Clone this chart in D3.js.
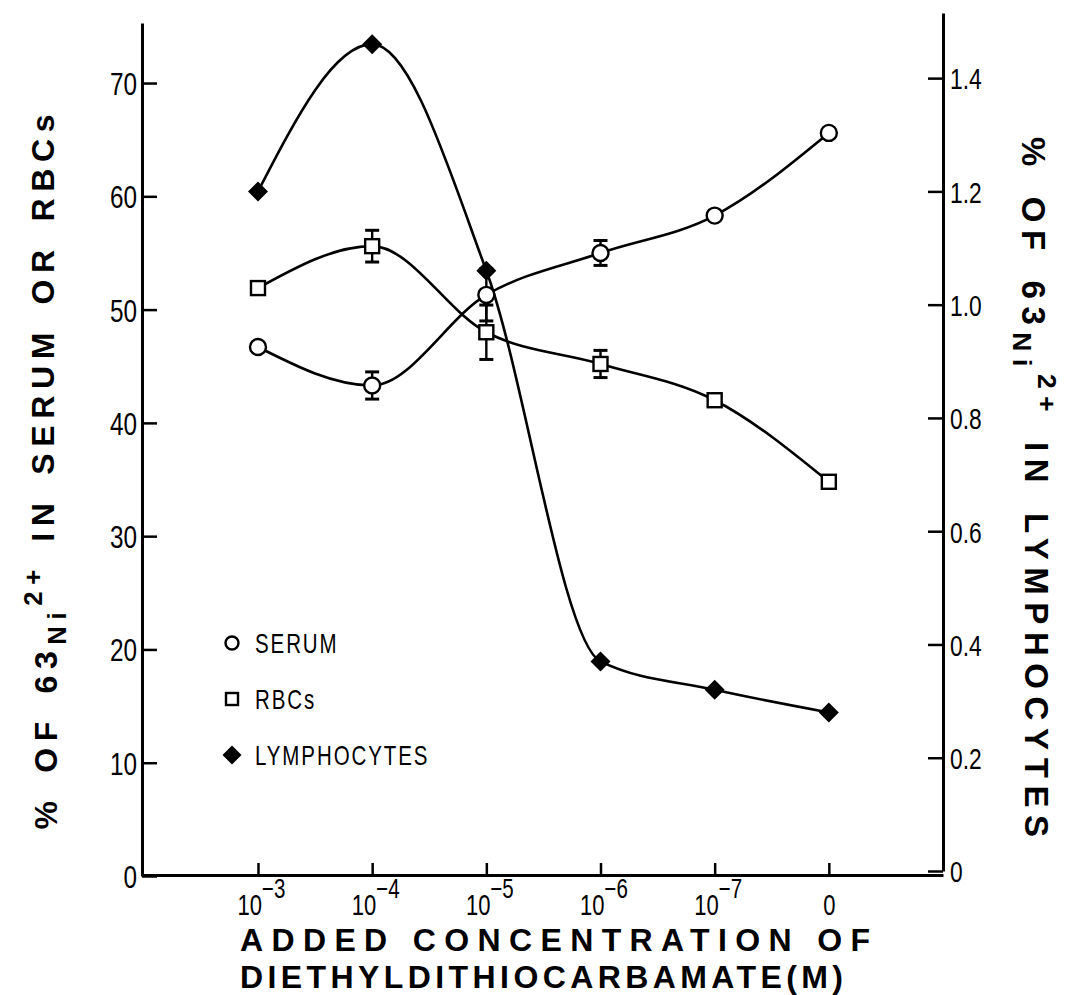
<!DOCTYPE html>
<html lang="en">
<head>
<meta charset="UTF-8">
<title>Ni uptake vs diethyldithiocarbamate</title>
<script src="https://cdn.jsdelivr.net/npm/d3@7"></script>
<style>
    body { margin: 0; background: #fff; }
    .tick text, .lbl { font-family: "Liberation Sans", Arial, sans-serif; fill: #000; }
    .title { font-family: "Liberation Sans", Arial, sans-serif; font-weight: bold; fill: #000; }
    .domain { stroke: #000; stroke-width: 3; }
    .tick line { stroke: #000; stroke-width: 2.5; }
</style>
</head>
<body>
<div id="main"></div>
<script>
// categories on the x axis (equal spacing)
const categories = ["1e-3", "1e-4", "1e-5", "1e-6", "1e-7", "0"];
const tickBase = ["10", "10", "10", "10", "10", "0"];
const tickExp = ["\u22123", "\u22124", "\u22125", "\u22126", "\u22127", ""];

// left axis: % in serum / RBCs
const serum = [46.7, 43.3, 51.3, 55.0, 58.3, 65.6];
const serumErr = [0, 1.2, 2.3, 1.1, 0, 0];
const rbc = [51.9, 55.6, 48.0, 45.2, 42.0, 34.8];
const rbcErr = [0, 1.4, 2.4, 1.2, 0, 0];

// right axis: % in lymphocytes
const lymph = [1.20, 1.46, 1.06, 0.37, 0.32, 0.28];

const leftTicks = [0, 10, 20, 30, 40, 50, 60, 70];
const rightTicks = [0, 0.2, 0.4, 0.6, 0.8, 1.0, 1.2, 1.4];
const rightTickLabels = ["0", "0.2", "0.4", "0.6", "0.8", "1.0", "1.2", "1.4"];

const legendNames = ["SERUM", "RBCs", "LYMPHOCYTES"];

const W = 1071, H = 995;
const NARROW = 0.76;   // squeeze factor to mimic the condensed typeface

const svg = d3.select('#main').append('svg')
    .attr('width', W).attr('height', H)
    .style('background', '#fff');

// scales
const x = d3.scaleLinear().domain([-1.016, 6]).range([142, 943]);
const yL = d3.scaleLinear().domain([0, 75.3]).range([876, 23]);
const yR = d3.scaleLinear().domain([0, 1.515]).range([871, 13]);
const xAxisY = 875;

// squeeze text horizontally, keep the anchor point
function narrow(sel) {
    sel.each(function () {
        const t = d3.select(this);
        const x0 = +t.attr('x') || 0;
        t.attr('x', x0 / NARROW).attr('transform', `scale(${NARROW},1)`);
    });
}

// left axis (ticks point inward)
svg.append('g')
    .attr('transform', `translate(${x.range()[0]},0)`)
    .call(d3.axisLeft(yL).tickValues(leftTicks).tickSizeInner(-15).tickSizeOuter(0).tickPadding(5))
    .call(g => g.selectAll('.tick text').attr('font-size', 32).attr('dy', '0.36em').call(narrow));

// right axis
svg.append('g')
    .attr('transform', `translate(${x.range()[1]},0)`)
    .call(d3.axisRight(yR).tickValues(rightTicks).tickSizeInner(-15).tickSizeOuter(0).tickPadding(7)
        .tickFormat((d, i) => rightTickLabels[i]))
    .call(g => g.selectAll('.tick text').attr('font-size', 30).attr('dy', '0.36em').call(narrow));

// bottom axis
const xAxis = svg.append('g')
    .attr('transform', `translate(0,${xAxisY})`)
    .call(d3.axisBottom(x).tickValues(d3.range(categories.length)).tickSizeInner(-12).tickSizeOuter(0)
        .tickFormat(''));
xAxis.selectAll('.tick line').attr('stroke-width', 2);

const xl = xAxis.selectAll('.tick').append('text').attr('class', 'lbl')
    .attr('x', (d, i) => tickExp[i] ? 3 : 0)
    .attr('y', 40)
    .attr('text-anchor', 'middle')
    .attr('font-size', 29);
xl.append('tspan').text((d, i) => tickBase[i]);
xl.append('tspan').attr('font-size', 27).attr('dy', '-0.62em').text((d, i) => tickExp[i]);
xl.call(narrow);

// curves
const lineL = d3.line().x((d, i) => x(i)).y(d => yL(d)).curve(d3.curveMonotoneX);
const lineR = d3.line().x((d, i) => x(i)).y(d => yR(d)).curve(d3.curveMonotoneX);

svg.append('path').datum(lymph).attr('d', lineR)
    .attr('fill', 'none').attr('stroke', '#000').attr('stroke-width', 2.6);
svg.append('path').datum(serum).attr('d', lineL)
    .attr('fill', 'none').attr('stroke', '#000').attr('stroke-width', 2.6);
svg.append('path').datum(rbc).attr('d', lineL)
    .attr('fill', 'none').attr('stroke', '#000').attr('stroke-width', 2.6);

// error bars
function errorBars(vals, errs) {
    const g = svg.append('g').attr('stroke', '#000').attr('stroke-width', 2.4);
    vals.forEach((v, i) => {
        if (!errs[i]) return;
        const cx = x(i), y1 = yL(v - errs[i]), y2 = yL(v + errs[i]);
        g.append('line').attr('x1', cx).attr('x2', cx).attr('y1', y1).attr('y2', y2);
        g.append('line').attr('x1', cx - 7).attr('x2', cx + 7).attr('y1', y1).attr('y2', y1).attr('stroke-width', 3);
        g.append('line').attr('x1', cx - 7).attr('x2', cx + 7).attr('y1', y2).attr('y2', y2).attr('stroke-width', 3);
    });
}
errorBars(serum, serumErr);
errorBars(rbc, rbcErr);

// markers
const diamond = d3.symbol().type(d3.symbolSquare).size(200);
svg.append('g').selectAll('path').data(lymph).join('path')
    .attr('d', diamond)
    .attr('transform', (d, i) => `translate(${x(i)},${yR(d)}) rotate(45)`)
    .attr('fill', '#000');

svg.append('g').selectAll('circle').data(serum).join('circle')
    .attr('cx', (d, i) => x(i)).attr('cy', d => yL(d)).attr('r', 8)
    .attr('fill', '#fff').attr('stroke', '#000').attr('stroke-width', 2.4);

svg.append('g').selectAll('rect').data(rbc).join('rect')
    .attr('x', (d, i) => x(i) - 7).attr('y', d => yL(d) - 7)
    .attr('width', 14).attr('height', 14)
    .attr('fill', '#fff').attr('stroke', '#000').attr('stroke-width', 2.4);

// legend
const legend = svg.append('g').attr('transform', 'translate(232,643)');
const lg = legend.selectAll('g').data(legendNames).join('g')
    .attr('transform', (d, i) => `translate(0,${i * 56})`);
lg.each(function (d, i) {
    const g = d3.select(this);
    if (i === 0) g.append('circle').attr('r', 6.5).attr('fill', '#fff').attr('stroke', '#000').attr('stroke-width', 2.4);
    if (i === 1) g.append('rect').attr('x', -6).attr('y', -6).attr('width', 12).attr('height', 12)
        .attr('fill', '#fff').attr('stroke', '#000').attr('stroke-width', 2.4);
    if (i === 2) g.append('path').attr('d', d3.symbol().type(d3.symbolSquare).size(180)).attr('transform', 'rotate(45)');
});
lg.append('text').attr('class', 'lbl')
    .attr('x', 23).attr('y', 10)
    .attr('font-size', 27).attr('letter-spacing', 2.5)
    .text(d => d)
    .call(narrow);

// x axis title
const xt = svg.append('g').attr('class', 'title');
xt.append('text').attr('x', 240).attr('y', 951).attr('font-size', 32)
    .attr('textLength', 630).attr('lengthAdjust', 'spacing')
    .text('ADDED CONCENTRATION OF');
xt.append('text').attr('x', 240).attr('y', 988).attr('font-size', 32)
    .attr('textLength', 603).attr('lengthAdjust', 'spacing')
    .text('DIETHYLDITHIOCARBAMATE(M)');

// y titles with 63Ni2+
function nickelTitle(tx, ty, rot, before, after, len, size) {
    const t = svg.append('text').attr('class', 'title')
        .attr('transform', `translate(${tx},${ty}) rotate(${rot})`)
        .attr('text-anchor', 'middle')
        .attr('font-size', size)
        .attr('word-spacing', 6)
        .attr('textLength', len).attr('lengthAdjust', 'spacing');
    t.append('tspan').text(before + '63');
    t.append('tspan').attr('font-size', size * 0.8).attr('dy', '0.35em').text('Ni');
    t.append('tspan').attr('font-size', size * 0.8).attr('dy', '-0.95em').text('2+');
    t.append('tspan').attr('dy', '0.4em').text(after);
}
nickelTitle(57, 472, -90, '% OF ', ' IN SERUM OR RBCs', 715, 32);
nickelTitle(1022, 487, 90, '% OF ', ' IN LYMPHOCYTES', 700, 33);
</script>
</body>
</html>
